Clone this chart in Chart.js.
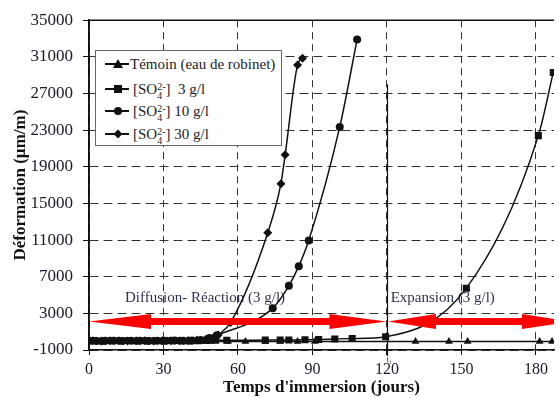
<!DOCTYPE html>
<html>
<head>
<meta charset="utf-8">
<script src="https://cdn.jsdelivr.net/npm/chart.js@4.4.0/dist/chart.umd.min.js"></script>
<style>
  html, body { margin: 0; padding: 0; background: #fff; }
  #wrap { position: relative; width: 559px; height: 398px; }
  #legend {
    position: absolute; left: 95px; top: 50px; width: 187px; height: 96px;
    box-sizing: border-box; border: 1.5px solid #666; background: #fff;
    font-family: "Liberation Serif", serif; font-size: 15px; color: #1c1c2c;
  }
  .row { position: absolute; left: 0; height: 20px; width: 100%; }
  .row svg { position: absolute; left: 9px; top: 3px; }
  .row .lbl { position: absolute; top: 0; line-height: 20px; white-space: pre; }
  .st { display: inline-block; vertical-align: -5px; font-size: 10px; line-height: 9px; text-align: left; }
  .st span { display: block; }
</style>
</head>
<body>
<div id="wrap">
  <canvas id="c" width="559" height="398"></canvas>
  <div id="legend">
    <div class="row" style="top:3px">
      <svg width="26" height="14"><line x1="0" y1="7" x2="24" y2="7" stroke="#111" stroke-width="2"/><polygon points="13,2 18,11 8,11" fill="#111"/></svg>
      <span class="lbl" style="left:34px">Témoin (eau de robinet)</span>
    </div>
    <div class="row" style="top:28px">
      <svg width="26" height="14"><line x1="0" y1="7" x2="24" y2="7" stroke="#111" stroke-width="2"/><rect x="9" y="3" width="8" height="8" fill="#111"/></svg>
      <span class="lbl" style="left:37px">[SO<span class="st"><span>2-</span><span>4</span></span>]  3 g/l</span>
    </div>
    <div class="row" style="top:50px">
      <svg width="26" height="14"><line x1="0" y1="7" x2="24" y2="7" stroke="#111" stroke-width="2"/><circle cx="13" cy="7" r="4" fill="#111"/></svg>
      <span class="lbl" style="left:37px">[SO<span class="st"><span>2-</span><span>4</span></span>] 10 g/l</span>
    </div>
    <div class="row" style="top:73px">
      <svg width="26" height="14"><line x1="0" y1="7" x2="24" y2="7" stroke="#111" stroke-width="2"/><polygon points="13,2.5 17.5,7 13,11.5 8.5,7" fill="#111"/></svg>
      <span class="lbl" style="left:37px">[SO<span class="st"><span>2-</span><span>4</span></span>] 30 g/l</span>
    </div>
  </div>
</div>
<script>
// axis ticks
const X_TICKS = [0, 30, 60, 90, 120, 150, 180];
const Y_TICKS = [-1000, 3000, 7000, 11000, 15000, 19000, 23000, 27000, 31000, 35000];

// Témoin (eau de robinet)
const daysTemoin = [0, 3.5, 7, 10.5, 14, 17.5, 21, 24.5, 28, 31.5, 35, 38.5, 42, 45.5, 49, 56, 63, 71, 77, 84, 91, 131.5, 145, 152.5, 181.5, 186.5];
const defTemoin  = [-80, -60, -90, -50, -70, -60, -80, -50, -70, -60, -80, -60, -50, -70, -60, -70, -60, -60, -60, -60, -60, -70, -60, -70, -70, -70];

// [SO4 2-] 3 g/l
const days3 = [0, 2, 5.5, 9, 12.5, 16, 19.5, 23, 26.5, 30, 33.5, 37, 40.5, 44, 47.5, 51, 55.5, 71, 77, 80.5, 87, 92.5, 99, 106, 119.5, 152, 181, 187];
const def3  = [0, 20, -30, 10, 0, 30, -20, 10, 0, -20, 20, 0, -10, 20, 50, 80, 60, 80, 90, 100, 120, 150, 200, 250, 450, 5750, 22400, 29300];

// [SO4 2-] 10 g/l
const days10 = [0, 3, 6.5, 10, 13.5, 17, 20.5, 24, 27.5, 31, 34.5, 38, 41.5, 45, 48.5, 51.5, 74, 80.5, 84.5, 88.5, 101, 108];
const def10  = [0, -20, 10, 0, -30, 20, 0, -10, 20, 0, 30, 10, 50, 100, 300, 600, 3570, 6000, 8150, 10950, 23350, 32900];

// [SO4 2-] 30 g/l
const days30 = [0, 1.5, 5, 8.5, 12, 15.5, 19, 22.5, 26, 29.5, 33, 36.5, 40, 43.5, 47, 50, 52, 57, 72, 77.3, 79, 84, 86];
const def30  = [0, 10, -20, 0, 20, -10, 0, 10, -20, 0, 10, 20, 40, 80, 150, 300, 650, 2000, 11800, 17150, 20300, 30100, 30850];

const SERIF = '"Liberation Serif", "Times New Roman", serif';
const INK = '#111';

function pts(xs, ys) {
  return xs.map((x, i) => ({ x, y: ys[i] }));
}

function series(xs, ys, style, r) {
  return {
    data: pts(xs, ys),
    borderColor: INK,
    backgroundColor: INK,
    borderWidth: 1.5,
    pointStyle: style,
    pointRadius: r,
    pointBorderWidth: 0,
    pointBackgroundColor: INK,
    cubicInterpolationMode: 'monotone',
  };
}

// double-headed red arrow between two pixel x positions at pixel height y
function drawArrow(ctx, xa, xb, y, headA, headB) {
  const hh = 7.5, sh = 3.5;
  ctx.beginPath();
  ctx.moveTo(xa, y);
  ctx.lineTo(xa + headA, y - hh);
  ctx.lineTo(xa + headA, y - sh);
  ctx.lineTo(xb - headB, y - sh);
  ctx.lineTo(xb - headB, y - hh);
  ctx.lineTo(xb, y);
  ctx.lineTo(xb - headB, y + hh);
  ctx.lineTo(xb - headB, y + sh);
  ctx.lineTo(xa + headA, y + sh);
  ctx.lineTo(xa + headA, y + hh);
  ctx.closePath();
  ctx.fillStyle = '#ff0000';
  ctx.fill();
}

const annotations = {
  id: 'annotations',
  beforeDatasetsDraw(chart) {
    const { ctx, scales: { x, y } } = chart;
    ctx.save();
    ctx.fillStyle = '#2e3350';
    ctx.font = '15px ' + SERIF;
    ctx.textBaseline = 'alphabetic';
    ctx.fillText('Diffusion- Réaction (3 g/l)', x.getPixelForValue(14.5), y.getPixelForValue(4250));
    ctx.fillText('Expansion (3 g/l)', x.getPixelForValue(121.5), y.getPixelForValue(4250));
    ctx.restore();
  },
  afterDatasetsDraw(chart) {
    const { ctx, chartArea: a, scales: { x, y } } = chart;
    ctx.save();
    ctx.beginPath();
    ctx.rect(a.left, 0, a.right - a.left, chart.height);
    ctx.clip();
    const ay = y.getPixelForValue(2100);
    drawArrow(ctx, x.getPixelForValue(0), x.getPixelForValue(119.8), ay, 62, 57);
    drawArrow(ctx, x.getPixelForValue(120.4), x.getPixelForValue(194.5), ay, 48, 50);
    ctx.restore();

    // solid frame: top and left
    ctx.save();
    ctx.strokeStyle = INK;
    ctx.lineWidth = 1.5;
    ctx.setLineDash([]);
    ctx.beginPath();
    ctx.moveTo(a.left, a.bottom);
    ctx.lineTo(a.left, a.top);
    ctx.lineTo(a.right, a.top);
    ctx.stroke();

    // t_i marker line
    const xi = Math.round(x.getPixelForValue(120)) + 0.5;
    ctx.lineWidth = 1.2;
    ctx.beginPath();
    ctx.moveTo(xi, y.getPixelForValue(28000));
    ctx.lineTo(xi, a.bottom + 6);
    ctx.stroke();
    ctx.fillStyle = '#2e3350';
    ctx.font = '9px ' + SERIF;
    ctx.fillText('t', xi - 1, a.bottom + 12);
    ctx.font = '6px ' + SERIF;
    ctx.fillText('i', xi + 2, a.bottom + 14);
    ctx.restore();
  },
};

new Chart(document.getElementById('c'), {
  type: 'line',
  data: {
    datasets: [
      series(daysTemoin, defTemoin, 'triangle', 4.5),
      series(days3, def3, 'rect', 5),
      series(days10, def10, 'circle', 4),
      series(days30, def30, 'rectRot', 4.5),
    ],
  },
  options: {
    responsive: false,
    animation: false,
    layout: { padding: { top: 18, right: 0, left: 0, bottom: 0 } },
    plugins: { legend: { display: false }, tooltip: { enabled: false } },
    scales: {
      x: {
        type: 'linear',
        min: 0,
        max: 187.3,
        afterBuildTicks: s => { s.ticks = X_TICKS.map(v => ({ value: v })); },
        afterFit: s => { s.height = 48; },
        border: { display: true, color: INK, width: 1.5, dash: [7, 5] },
        grid: {
          display: true, drawOnChartArea: true,
          color: '#333', lineWidth: 1,
          drawTicks: true, tickLength: 5, tickColor: INK, tickWidth: 1,
        },
        ticks: {
          color: '#1a1a2a', padding: 5, maxRotation: 0,
          font: { family: SERIF, size: 16 },
          callback: v => String(v),
        },
        title: {
          display: true, text: "Temps d'immersion (jours)", color: '#111',
          font: { family: SERIF, size: 17, weight: 'bold' },
          padding: { top: 0, bottom: 0 },
        },
      },
      y: {
        min: -1000,
        max: 35000,
        afterBuildTicks: s => { s.ticks = Y_TICKS.map(v => ({ value: v })); },
        afterFit: s => { s.width = 89; },
        border: { display: true, color: INK, width: 1.5, dash: [9, 5] },
        grid: {
          display: true, drawOnChartArea: true,
          color: '#333', lineWidth: 1,
          drawTicks: true, tickLength: 6, tickColor: INK, tickWidth: 1,
        },
        ticks: {
          color: '#1a1a2a', padding: 10,
          font: { family: SERIF, size: 17 },
          callback: v => String(v),
        },
        title: {
          display: true, text: 'Déformation (µm/m)', color: '#111',
          font: { family: SERIF, size: 17, weight: 'bold' },
          padding: { top: 10, bottom: 0 },
        },
      },
    },
  },
  plugins: [annotations],
});
</script>
</body>
</html>
